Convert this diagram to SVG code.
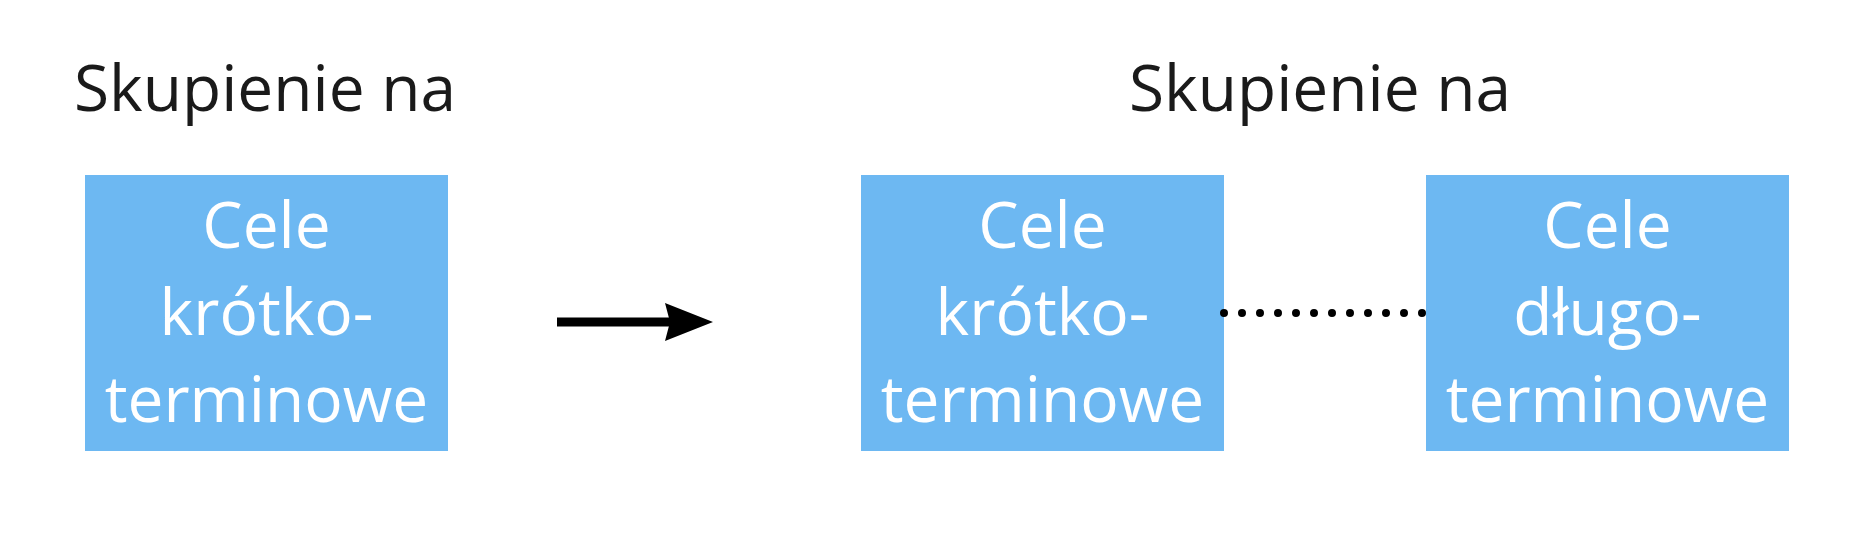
<svg xmlns="http://www.w3.org/2000/svg" width="1867" height="535" viewBox="0 0 1867 535">
<style>
.title{font-family:"Open Sans","Liberation Sans",sans-serif;font-size:64px;fill:#1a1a1a}
.box{fill:#6db8f2}
.lbl{font-family:"Open Sans","Liberation Sans",sans-serif;font-size:64px;fill:#ffffff;text-anchor:middle}
</style>
<rect width="1867" height="535" fill="#fff"/>
<text class="title" x="74" y="111">Skupienie na</text>
<text class="title" x="1129" y="111">Skupienie na</text>
<g id="node1">
<rect class="box" x="85" y="175" width="363" height="276"/>
<text class="lbl" x="266.5" y="248">Cele</text>
<text class="lbl" x="266.5" y="335">krótko-</text>
<text class="lbl" x="266.5" y="422">terminowe</text>
</g>
<g id="node2">
<rect class="box" x="861" y="175" width="363" height="276"/>
<text class="lbl" x="1042.5" y="248">Cele</text>
<text class="lbl" x="1042.5" y="335">krótko-</text>
<text class="lbl" x="1042.5" y="422">terminowe</text>
</g>
<g id="node3">
<rect class="box" x="1426" y="175" width="363" height="276"/>
<text class="lbl" x="1607.5" y="248">Cele</text>
<text class="lbl" x="1607.5" y="335">długo-</text>
<text class="lbl" x="1607.5" y="422">terminowe</text>
</g>
<g id="connectors">
<line x1="557" y1="322" x2="672" y2="322" stroke="#000" stroke-width="9"/>
<path d="M665,303 L713,322 L665,341 L670,322 Z" fill="#000"/>
<line x1="1224" y1="313" x2="1423" y2="313" stroke="#000" stroke-width="8" stroke-linecap="round" stroke-dasharray="0 18"/>
</g>
</svg>
